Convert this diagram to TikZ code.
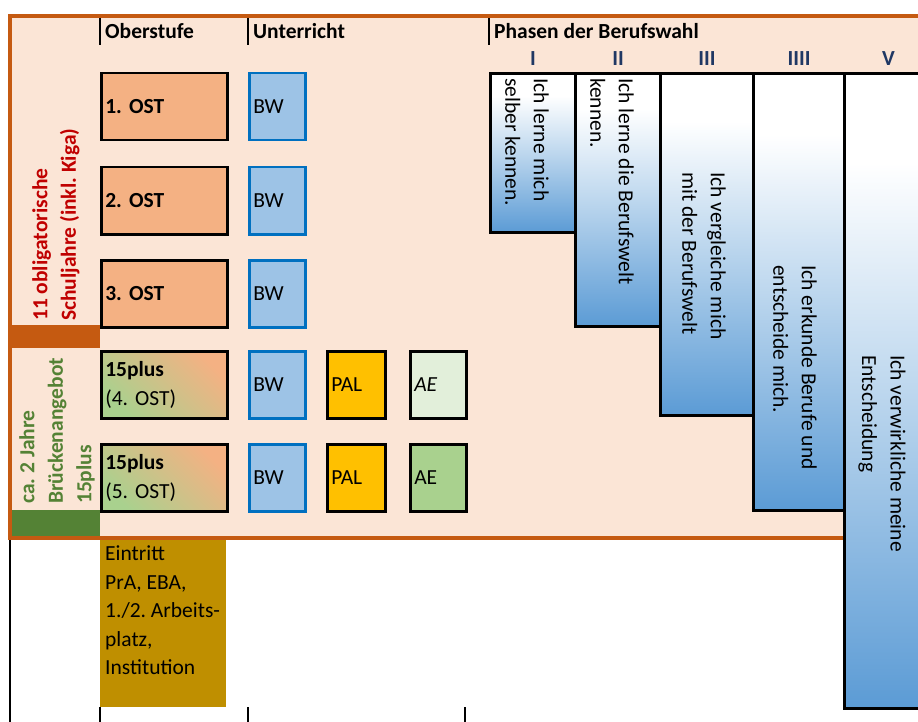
\documentclass[tikz,border=0pt]{standalone}
\usepackage{fontspec}
\setmainfont{Carlito}
\usetikzlibrary{positioning}

\definecolor{peach}{HTML}{FBE5D6}
\definecolor{rust}{HTML}{C55A11}
\definecolor{ostfill}{HTML}{F4B183}
\definecolor{bwfill}{HTML}{9DC3E6}
\definecolor{bwline}{HTML}{0070C0}
\definecolor{palfill}{HTML}{FFC000}
\definecolor{aelight}{HTML}{E2EFDA}
\definecolor{aegreen}{HTML}{A9D18E}
\definecolor{darkgreen}{HTML}{548235}
\definecolor{gold}{HTML}{BF8F00}
\definecolor{navy}{HTML}{203864}
\definecolor{darkred}{HTML}{C00000}
\definecolor{phaseblue}{HTML}{5B9BD5}
\definecolor{phaselight}{HTML}{BDD7EE}

\pgfdeclareverticalshading{phaseshade}{100bp}{color(0bp)=(phaseblue); color(25bp)=(phaseblue); color(50bp)=(phaselight); color(68bp)=(white); color(100bp)=(white)}

\newcommand{\diagfont}{\fontsize{21.5}{28.5}\selectfont}

\begin{document}
\frenchspacing
\begin{tikzpicture}[x=1pt, y=-1pt,
    every node/.style={font=\diagfont, inner sep=0pt},
    ostbox/.style={draw, line width=2.5pt, fill=ostfill, minimum height=67pt, text width=118pt, inner xsep=4pt, align=left, anchor=north west},
    plusbox/.style={ostbox, top color=ostfill, bottom color=aegreen, shading angle=-45},
    bwbox/.style={draw=bwline, line width=2.5pt, fill=bwfill, minimum height=67pt, text width=48pt, inner xsep=4pt, align=left, anchor=north west},
    palbox/.style={draw, line width=2.5pt, fill=palfill, minimum height=67pt, text width=50pt, inner xsep=4pt, align=left, anchor=north west},
    aebox/.style={draw, line width=2.5pt, minimum height=67pt, text width=48pt, inner xsep=4pt, align=left, anchor=north west},
    phasebox/.style={draw, line width=3pt, shading=phaseshade, anchor=north west},
    phasetext/.style={rotate=-90, anchor=west, align=left},
    numeral/.style={font=\diagfont\bfseries, text=navy},
    header/.style={font=\diagfont\bfseries, anchor=west}]

  \useasboundingbox (0,0) rectangle (918,722);
  \clip (0,0) rectangle (918,722);

  % Frame
  \draw[rust, line width=4pt, fill=peach] (10,16) rectangle (950,538);
  \fill[rust] (10,325) rectangle (100,348);
  \fill[darkgreen] (12,510) rectangle (100,536);

  % Headers
  \node[header] (hOber) at (105,31) {Oberstufe};
  \node[header] (hUnter) at (253,31) {Unterricht};
  \node[header] (hPhasen) at (494,31) {Phasen der Berufswahl};
  \foreach \x in {100,248,489}
  \draw[line width=2pt] (\x,18) -- (\x,45);

  % Side labels
  \node[rotate=90, anchor=west, align=left, font=\diagfont\bfseries, text=darkred] (oblig) at (56,321) {11 obligatorische\\Schuljahre (inkl. Kiga)};
  \node[rotate=90, anchor=west, align=left, font=\diagfont\bfseries, text=darkgreen] (bruecke) at (57,504) {ca. 2 Jahre\\Brückenangebot\\15plus};

  % Oberstufe and Unterricht
  \foreach \i/\y in {1/72, 2/166, 3/259} {
    \node[ostbox] (ost\i) at (100,\y) {\textbf{\i. OST}};
    \node[bwbox] (bw\i) at (248,\y) {BW};
  }
  \foreach \i/\y in {4/350, 5/443} {
    \node[plusbox] (plus\i) at (100,\y) {\textbf{15plus}\\(\i. OST)};
    \node[bwbox] (bw\i) at (248,\y) {BW};
    \node[palbox] (pal\i) at (326,\y) {PAL};
  }
  \node[aebox, fill=aelight] (ae4) at (409,350) {\textit{AE}};
  \node[aebox, fill=aegreen] (ae5) at (409,443) {AE};

  \node[fill=gold, minimum width=126pt, minimum height=167pt, anchor=north west] (eintritt) at (100,540) {};
  \node[anchor=north west, align=left] (eintrittText) at (105,546) {Eintritt\\PrA, EBA,\\1./2. Arbeits-\\platz,\\Institution};

  % Phasen
  \foreach \n/\x/\w/\h/\r in {1/489/85/159/I, 2/574/85/253/II, 3/659/93/342/III, 4/752/91/437/IIII, 5/843/88/635/V} {
    \node[phasebox, minimum width=\w pt, minimum height=\h pt] (phase\n) at (\x,72) {};
    \node[numeral, above=6pt of phase\n] (num\n) {\r};
  }
  \node[phasetext] (txt1) at (527,78) {Ich lerne mich\\selber kennen.};
  \node[phasetext] (txt2) at (612,78) {Ich lerne die Berufswelt\\kennen.};
  \node[phasetext] (txt3) at (704,172) {Ich vergleiche mich\\mit der Berufswelt};
  \node[phasetext] (txt4) at (795,265) {Ich erkunde Berufe und\\entscheide mich.};
  \node[phasetext] (txt5) at (882,355) {Ich verwirkliche meine\\Entscheidung};

  % Bottom ticks
  \draw[line width=2pt] (10,540) -- (10,722);
  \foreach \x in {100,248,465}
  \draw[line width=2pt] (\x,707) -- (\x,722);
\end{tikzpicture}
\end{document}
